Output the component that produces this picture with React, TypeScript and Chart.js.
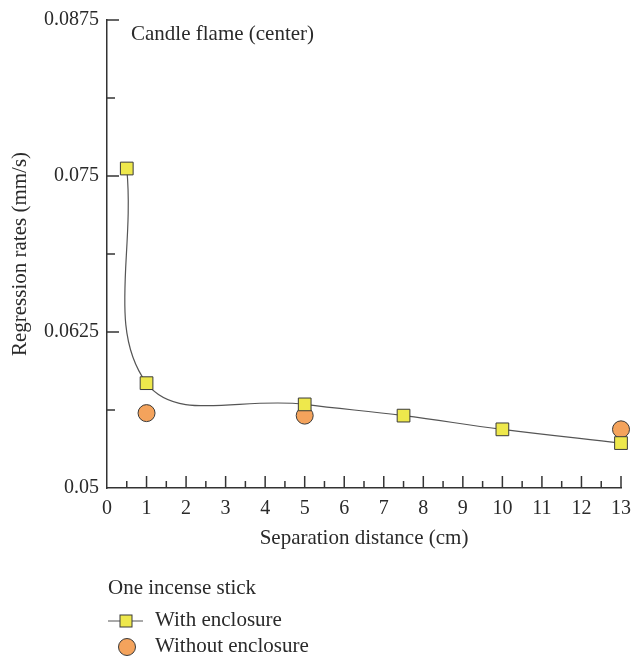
import { useEffect, useRef } from "react";
import { Chart, registerables } from "chart.js";

Chart.register(...registerables);

// ---- data ----
const xWith = [0.5, 1, 5, 7.5, 10, 13];
const yWith = [0.0756, 0.0584, 0.0567, 0.0558, 0.0547, 0.0536];
const xWithout = [1, 5, 13];
const yWithout = [0.056, 0.0558, 0.0547];
const yTickValues = [0.05, 0.0625, 0.075, 0.0875];
const xTickValues = [0, 1, 2, 3, 4, 5, 6, 7, 8, 9, 10, 11, 12, 13];
const seriesNames = ["With enclosure", "Without enclosure"];
const plotTitle = "Candle flame (center)";
const xTitle = "Separation distance (cm)";
const yTitle = "Regression rates (mm/s)";
const legendTitle = "One incense stick";

const FONT = "'Liberation Serif', 'Times New Roman', serif";
const TEXT = "#2a2a2a";
const AXIS = "#333333";
const SQ_FILL = "#eee84c";
const CI_FILL = "#f4a35c";
const MARK_BORDER = "#3a3a3a";

const decorPlugin = {
  id: "decor",
  beforeDatasetsDraw(chart: any) {
    const { ctx, chartArea } = chart;
    const xs = chart.scales.x;
    const ys = chart.scales.y;
    ctx.save();
    ctx.strokeStyle = AXIS;
    ctx.lineWidth = 1.5;
    for (let i = 0; i < yTickValues.length; i++) {
      const v = yTickValues[i];
      const py = ys.getPixelForValue(v);
      if (i > 0) {
        ctx.beginPath();
        ctx.moveTo(chartArea.left, py);
        ctx.lineTo(chartArea.left + 12, py);
        ctx.stroke();
      }
      if (i < yTickValues.length - 1) {
        const pm = ys.getPixelForValue((v + yTickValues[i + 1]) / 2);
        ctx.beginPath();
        ctx.moveTo(chartArea.left, pm);
        ctx.lineTo(chartArea.left + 8, pm);
        ctx.stroke();
      }
    }
    for (let i = 0; i < xTickValues.length; i++) {
      const v = xTickValues[i];
      const px = xs.getPixelForValue(v);
      if (i > 0) {
        ctx.beginPath();
        ctx.moveTo(px, chartArea.bottom);
        ctx.lineTo(px, chartArea.bottom - 12);
        ctx.stroke();
      }
      if (i < xTickValues.length - 1) {
        const pm = xs.getPixelForValue((v + xTickValues[i + 1]) / 2);
        ctx.beginPath();
        ctx.moveTo(pm, chartArea.bottom);
        ctx.lineTo(pm, chartArea.bottom - 7);
        ctx.stroke();
      }
    }
    ctx.restore();
  },
  afterDraw(chart: any) {
    const { ctx, chartArea } = chart;
    ctx.save();
    ctx.fillStyle = TEXT;
    ctx.textBaseline = "middle";
    ctx.font = `21px ${FONT}`;
    ctx.textAlign = "left";
    ctx.fillText(plotTitle, chartArea.left + 24, 34);
    ctx.textAlign = "center";
    ctx.fillText(xTitle, (chartArea.left + chartArea.right) / 2, 538);
    ctx.save();
    ctx.translate(20, (chartArea.top + chartArea.bottom) / 2);
    ctx.rotate(-Math.PI / 2);
    ctx.fillText(yTitle, 0, 0);
    ctx.restore();
    ctx.textAlign = "left";
    ctx.fillText(legendTitle, 108, 588);
    ctx.strokeStyle = "#555";
    ctx.lineWidth = 1.2;
    ctx.beginPath();
    ctx.moveTo(108, 621);
    ctx.lineTo(143, 621);
    ctx.stroke();
    ctx.fillStyle = SQ_FILL;
    ctx.strokeStyle = MARK_BORDER;
    ctx.lineWidth = 1;
    ctx.fillRect(120, 615, 12, 12);
    ctx.strokeRect(120, 615, 12, 12);
    ctx.beginPath();
    ctx.arc(127, 647, 8.5, 0, Math.PI * 2);
    ctx.fillStyle = CI_FILL;
    ctx.fill();
    ctx.stroke();
    ctx.fillStyle = TEXT;
    ctx.fillText(seriesNames[0], 155, 620);
    ctx.fillText(seriesNames[1], 155, 646);
    ctx.restore();
  },
};

export default function App() {
  const ref = useRef<HTMLCanvasElement | null>(null);
  useEffect(() => {
    if (!ref.current) return;
    const chart = new Chart(ref.current, {
      type: "scatter",
      data: {
        datasets: [
          {
            label: seriesNames[0],
            data: xWith.map((x, i) => ({ x, y: yWith[i] })),
            showLine: true,
            tension: 0.4,
            borderColor: "#555555",
            borderWidth: 1.2,
            pointStyle: "rect",
            pointRadius: 9,
            pointBackgroundColor: SQ_FILL,
            pointBorderColor: MARK_BORDER,
            pointBorderWidth: 1,
            clip: false,
          },
          {
            label: seriesNames[1],
            data: xWithout.map((x, i) => ({ x, y: yWithout[i] })),
            showLine: false,
            pointStyle: "circle",
            pointRadius: 8.5,
            pointBackgroundColor: CI_FILL,
            pointBorderColor: MARK_BORDER,
            pointBorderWidth: 1,
            clip: false,
          },
        ],
      },
      options: {
        animation: false,
        responsive: false,
        maintainAspectRatio: false,
        layout: { padding: { left: 0, top: 20, right: 11, bottom: 0 } },
        plugins: { legend: { display: false }, tooltip: { enabled: false } },
        scales: {
          x: {
            type: "linear",
            min: 0,
            max: 13,
            afterBuildTicks: (s: any) => {
              s.ticks = xTickValues.map((v) => ({ value: v }));
            },
            afterFit: (s: any) => {
              s.height = 168;
              s.paddingRight = 0;
              s.paddingLeft = 0;
            },
            grid: { display: false, drawTicks: false },
            border: { display: true, color: AXIS, width: 1.5 },
            ticks: {
              color: TEXT,
              padding: 9,
              maxRotation: 0,
              autoSkip: false,
              font: { family: FONT, size: 20 },
            },
          },
          y: {
            type: "linear",
            min: 0.05,
            max: 0.0875,
            afterBuildTicks: (s: any) => {
              s.ticks = yTickValues.map((v) => ({ value: v }));
            },
            afterFit: (s: any) => {
              s.width = 107;
              s.paddingTop = 0;
              s.paddingBottom = 0;
            },
            grid: { display: false, drawTicks: false },
            border: { display: true, color: AXIS, width: 1.5 },
            ticks: {
              color: TEXT,
              padding: 8,
              autoSkip: false,
              font: { family: FONT, size: 20 },
              callback: (v: any) => String(Number(Number(v).toFixed(4))),
            },
          },
        },
      },
      plugins: [decorPlugin],
    });
    return () => chart.destroy();
  }, []);
  return (
    <div style={{ position: "fixed", left: 0, top: 0, width: 632, height: 656, background: "#fff" }}>
      <canvas ref={ref} width={632} height={656} style={{ display: "block" }} />
    </div>
  );
}
